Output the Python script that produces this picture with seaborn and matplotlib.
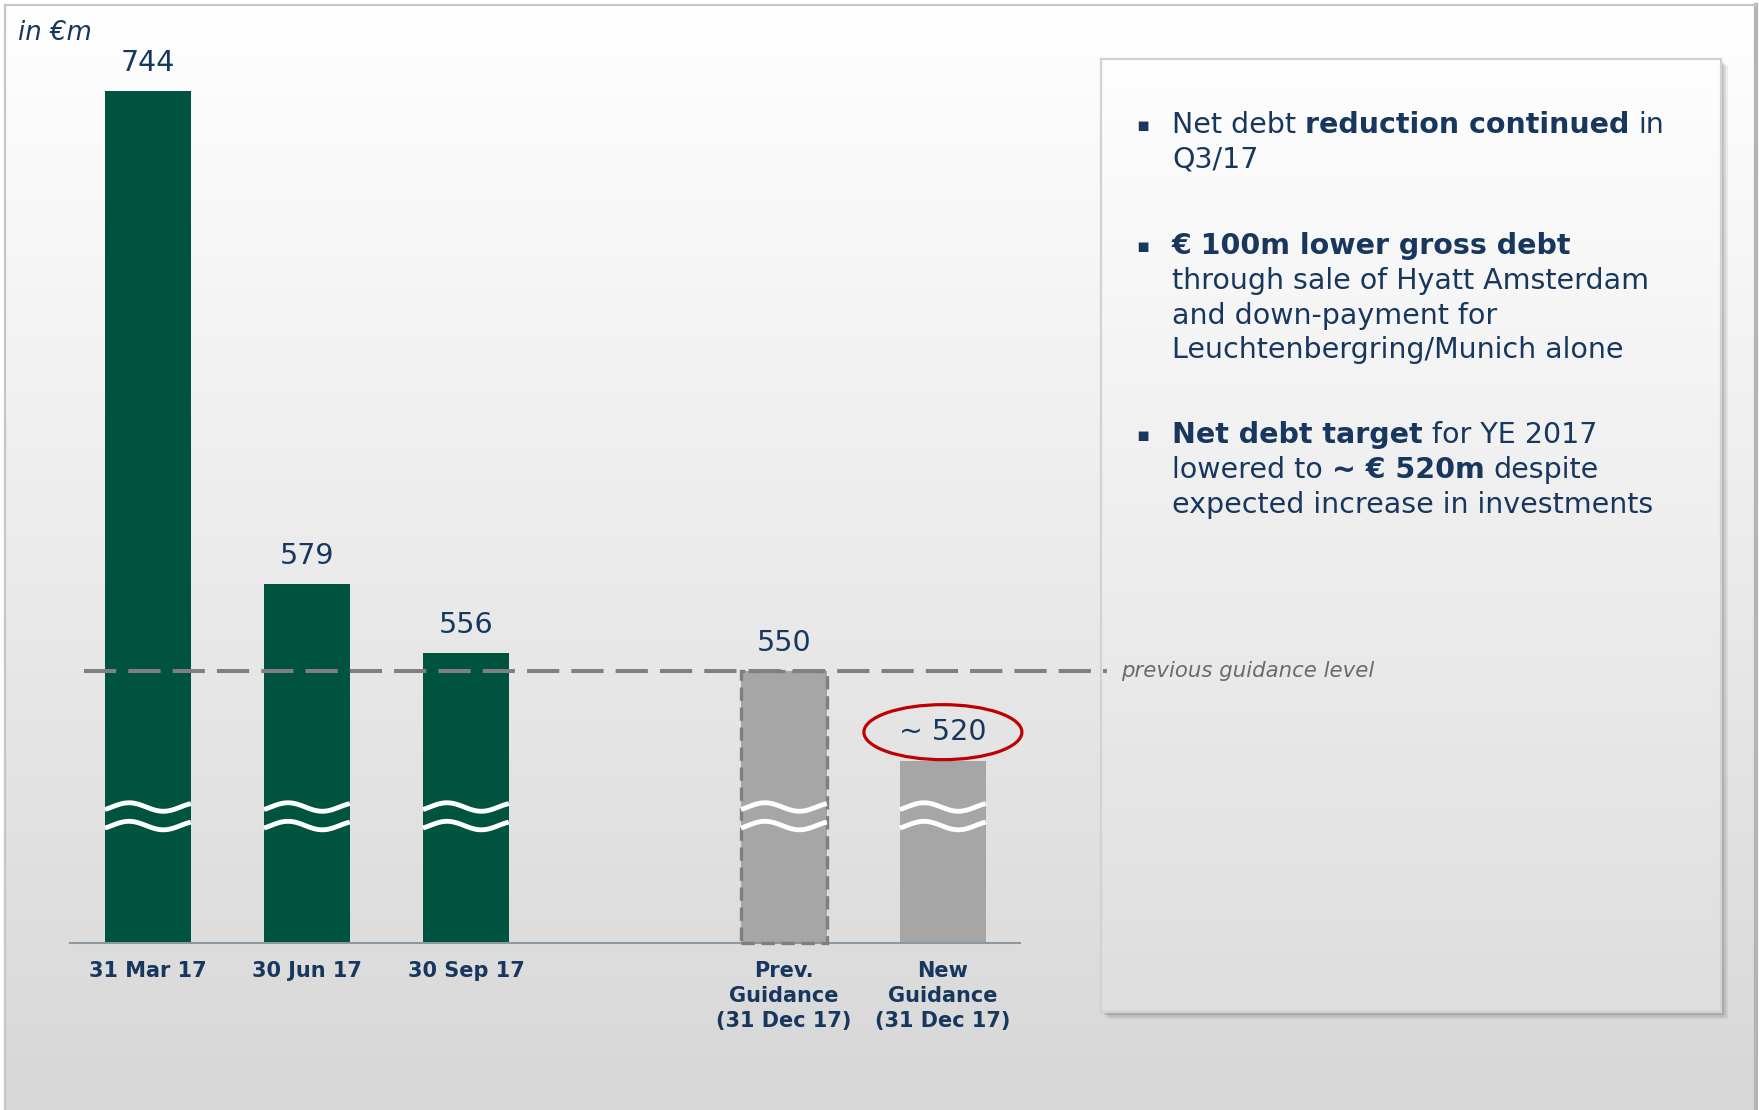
import numpy as np
import pandas as pd
import matplotlib
matplotlib.use("Agg")
import matplotlib.pyplot as plt
import matplotlib.transforms as mtransforms
from matplotlib.patches import Ellipse, Rectangle
import seaborn as sns

# Net debt per reporting date (in € million)
periods = ["31 Mar 17", "30 Jun 17", "30 Sep 17",
           "Prev.\nGuidance\n(31 Dec 17)", "New\nGuidance\n(31 Dec 17)"]
net_debt = [744, 579, 556, 550, 520]
value_labels = ["744", "579", "556", "550", "~ 520"]
status = ["actual", "actual", "actual", "previous", "new"]
# a blank slot separates the actual figures from the guidance figures
slot_order = periods[:3] + [" "] + periods[3:]

axis_floor = 459            # value axis is broken below this level
guidance_level = net_debt[3]

# commentary panel: bullets -> lines -> (text, bold) runs
bullets = [
    [[("Net debt ", False), ("reduction continued", True), (" in", False)],
     [("Q3/17", False)]],
    [[("€ 100m lower gross debt", True)],
     [("through sale of Hyatt Amsterdam", False)],
     [("and down-payment for", False)],
     [("Leuchtenbergring/Munich alone", False)]],
    [[("Net debt target", True), (" for YE 2017", False)],
     [("lowered to ", False), ("~ € 520m", True), (" despite", False)],
     [("expected increase in investments", False)]],
]

NAVY = "#17375e"
GREEN = "#00533f"
GREY_BAR = "#a6a6a6"
palette = {"actual": GREEN, "previous": GREY_BAR, "new": GREY_BAR}

sns.set_style("white")
plt.rcParams["font.family"] = ["DejaVu Sans"]

W, H = 1762, 1110
fig = plt.figure(figsize=(W / 100, H / 100), dpi=100)
fig.patch.set_facecolor("white")


def px_rect(x0, y0, x1, y1):
    """pixel box measured from the top-left corner -> figure-fraction rect"""
    return [x0 / W, 1 - y1 / H, (x1 - x0) / W, (y1 - y0) / H]


def vgrad(top, bottom, n=256):
    top = np.array(matplotlib.colors.to_rgb(top))
    bottom = np.array(matplotlib.colors.to_rgb(bottom))
    t = np.linspace(0, 1, n)[:, None]
    return (top * (1 - t) + bottom * t)[:, None, :]


# slide background with soft vertical gradient and frame
bg = fig.add_axes(px_rect(5, 5, 1756, 1112), zorder=0)
bg.imshow(vgrad("#ffffff", "#d7d7d7"), aspect="auto", extent=[0, 1, 0, 1])
bg.set_xticks([]); bg.set_yticks([])
for side in ("left", "top"):
    bg.spines[side].set_color("#c6c6c6"); bg.spines[side].set_linewidth(1.6)
bg.spines["right"].set_color("#b4b4b4"); bg.spines["right"].set_linewidth(3)
bg.spines["bottom"].set_visible(False)

# commentary panel with drop shadow
for off, alpha in ((7, 0.06), (5, 0.08), (3, 0.10)):
    fig.add_artist(Rectangle((1101 / W + off / W, 1 - 1012 / H - off / H), 620 / W, 953 / H,
                             transform=fig.transFigure, facecolor="black", alpha=alpha,
                             edgecolor="none", zorder=0.5))
box = fig.add_axes(px_rect(1101, 59, 1721, 1012), zorder=1)
box.imshow(vgrad("#fefefe", "#dedede"), aspect="auto", extent=[0, 1, 0, 1])
box.set_xticks([]); box.set_yticks([])
for s in box.spines.values():
    s.set_color("#d2d2d2"); s.set_linewidth(1.6)

# main bar chart
ax = fig.add_axes(px_rect(70, 60, 1020, 943), zorder=2)
ax.patch.set_alpha(0)
df = pd.DataFrame({"period": periods, "net_debt": net_debt, "status": status})
sns.barplot(data=df, x="period", y="net_debt", hue="status", order=slot_order,
            palette=palette, dodge=False, width=0.54, legend=False,
            linewidth=0, saturation=1, ax=ax)
ax.set_ylim(axis_floor, 754.4)
ax.set_xlim(-0.49, 5.485)
ax.set_xlabel(""); ax.set_ylabel("")
ax.set_yticks([])
for side in ("left", "top", "right"):
    ax.spines[side].set_visible(False)
ax.spines["bottom"].set_color("#8e98a2")
ax.spines["bottom"].set_linewidth(1.5)
ax.tick_params(axis="x", length=0, pad=13)
for lbl in ax.get_xticklabels():
    lbl.set_fontsize(15); lbl.set_fontweight("bold"); lbl.set_color(NAVY)
    lbl.set_linespacing(1.3)

# map each period to its bar
bar_of = {}
for p in ax.patches:
    c = p.get_x() + p.get_width() / 2
    for name in periods:
        if abs(c - slot_order.index(name)) < 0.05:
            bar_of[name] = p

blend = mtransforms.blended_transform_factory(ax.transData, ax.transAxes)
t = np.linspace(0, 1, 80)
wave = np.sin(2 * np.pi * (t - 0.08) / 0.8)

for name, val, lab in zip(periods, net_debt, value_labels):
    p = bar_of[name]
    x0, w = p.get_x(), p.get_width()
    pos = x0 + w / 2
    # axis-break marks
    for yb in (0.154, 0.133):
        ax.plot(x0 + t * w, yb + 0.0048 * wave, color="white", lw=3.5,
                transform=blend, clip_on=False, zorder=4, solid_capstyle="butt")
    ax.annotate(lab, (pos, val), xytext=(0, 20.3), textcoords="offset points",
                ha="center", va="center", fontsize=20.5, color=NAVY, zorder=5)

# previous guidance bar: dashed outline
pp = bar_of[periods[3]]
ax.add_patch(Rectangle((pp.get_x(), axis_floor), pp.get_width(), net_debt[3] - axis_floor,
                       fill=False, edgecolor="#7f7f7f", lw=2.4, linestyle=(0, (4, 2)),
                       clip_on=False, zorder=3))

# previous guidance level reference line
ax.plot([-0.40, 6.03], [guidance_level, guidance_level], color="#808080", lw=2.9,
        dashes=(8, 3), clip_on=False, zorder=6)
ax.text(6.12, guidance_level, "previous guidance level", style="italic",
        color="#6b6b6b", fontsize=15.3, va="center", ha="left", clip_on=False, zorder=6)

# red ellipse around the new guidance label
fig.canvas.draw()
pn = bar_of[periods[4]]
xd, yd = ax.transData.transform((pn.get_x() + pn.get_width() / 2, net_debt[4]))
cx, cy = fig.transFigure.inverted().transform((xd, yd + 28.5))
fig.add_artist(Ellipse((cx, cy), 158 / W, 55 / H, transform=fig.transFigure,
                       fill=False, edgecolor="#c00000", lw=2.3, zorder=7))

# unit label
fig.text(18 / W, 1 - 33 / H, "in €m", style="italic", fontsize=18.7, color=NAVY,
         va="center", ha="left")

# commentary text
BOX_FS = 20.5
renderer = fig.canvas.get_renderer()


def text_w(s, weight):
    tt = fig.text(0, 0, s, fontsize=BOX_FS, fontweight=weight)
    wpx = tt.get_window_extent(renderer).width
    tt.remove()
    return wpx


space_w = {wt: text_w("n n", wt) - text_w("nn", wt) for wt in ("normal", "bold")}

first_baselines = [133, 254, 443]
line_step = 34.8
for para, base in zip(bullets, first_baselines):
    fig.text(1142.5 / W, 1 - (base - 2) / H, "▪", fontsize=14, color=NAVY,
             ha="center", va="baseline", zorder=10)
    for li, runs in enumerate(para):
        y = 1 - (base + li * line_step) / H
        x = 1172.0
        for txt, bold in runs:
            wt = "bold" if bold else "normal"
            if txt.startswith(" "):
                x += space_w[wt]
            core = txt.strip()
            fig.text(x / W, y, core, fontsize=BOX_FS, fontweight=wt, color=NAVY,
                     ha="left", va="baseline", zorder=10)
            x += text_w(core, wt)
            if txt.endswith(" "):
                x += space_w[wt]

fig.savefig("out.png", dpi=100, facecolor=fig.get_facecolor())
